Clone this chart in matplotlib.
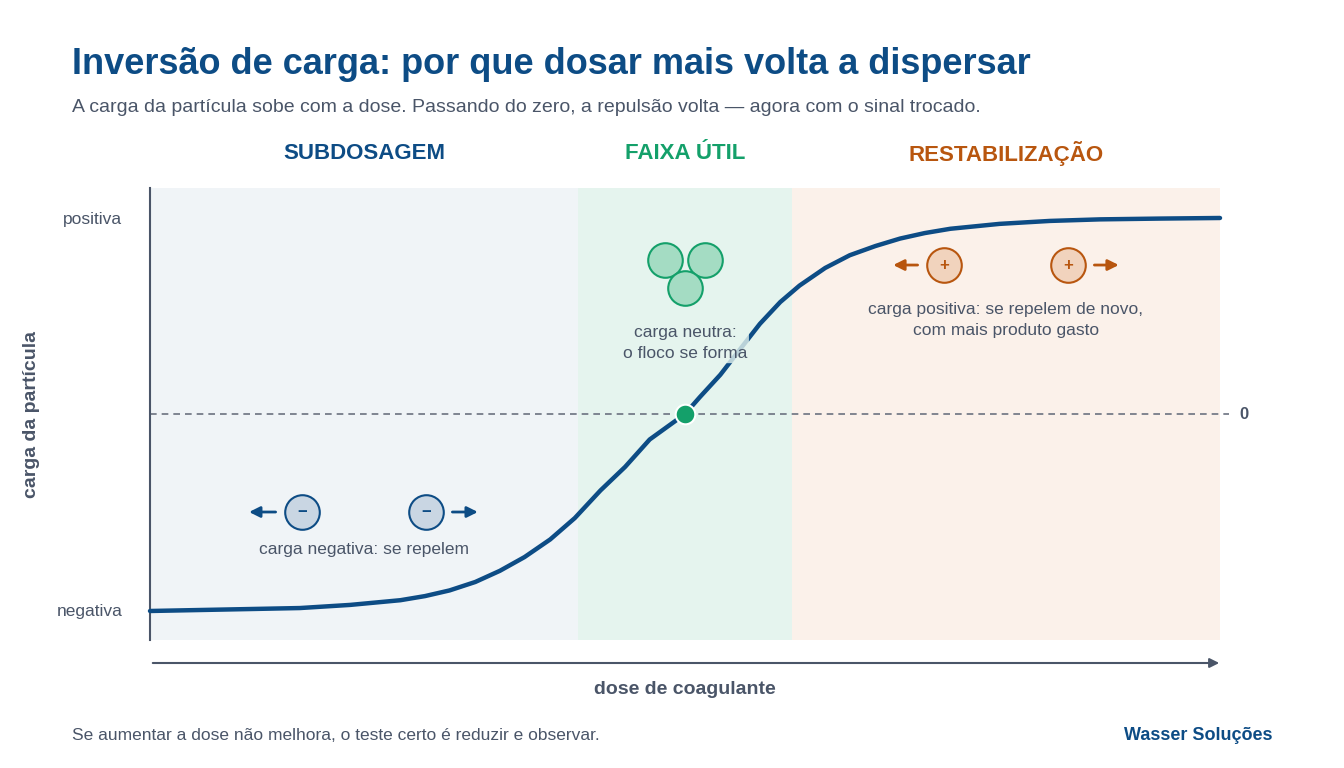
import matplotlib
matplotlib.use("Agg")
import matplotlib.pyplot as plt

# data (dose 0-10, charge -1..1)
dose = [0, 0.467, 0.935, 1.40, 1.87, 2.34, 2.57, 2.80, 3.04, 3.27, 3.50, 3.74, 3.97, 4.21, 4.44,
        4.67, 5.0, 5.14, 5.33, 5.51, 5.70, 5.89, 6.07, 6.31, 6.54, 6.78, 7.01, 7.24, 7.48, 7.94,
        8.41, 8.88, 9.44, 10]
charge = [-1.005, -1.0, -0.995, -0.99, -0.974, -0.95, -0.929, -0.90, -0.857, -0.80, -0.730, -0.64,
          -0.531, -0.39, -0.270, -0.13, 0, 0.087, 0.20, 0.327, 0.46, 0.571, 0.655, 0.745, 0.81,
          0.857, 0.895, 0.923, 0.945, 0.97, 0.985, 0.993, 0.997, 1.0]
zones = ["SUBDOSAGEM", "FAIXA ÚTIL", "RESTABILIZAÇÃO"]
zone_edges = [0, 4, 6, 10]
ytick_pos = [1, -1]
ytick_labels = ["positiva", "negativa"]

BLUE = "#0d4c85"
GREEN = "#14a06a"
ORANGE = "#b8560f"
GRAY = "#4a5568"
zone_colors = [BLUE, GREEN, ORANGE]
zone_fill = ["#f0f4f7", "#e5f4ee", "#fbf1ea"]

plt.rcParams['font.family'] = ['Liberation Sans', 'DejaVu Sans']
fig = plt.figure(figsize=(13.44, 7.68), dpi=100)
ax = fig.add_axes([150/1344, 1-640/768, 1070/1344, 452/768])
ax.set_xlim(0, 10)
ax.set_ylim(-1.153, 1.153)

for i, name in enumerate(zones):
    ax.axvspan(zone_edges[i], zone_edges[i+1], color=zone_fill[i], lw=0, zorder=0)
    xc = (zone_edges[i] + zone_edges[i+1]) / 2
    ax.text(xc, 1.33, name, ha="center", va="center", fontsize=16, fontweight="bold",
            color=zone_colors[i], clip_on=False)

ax.plot([0, 10.08], [0, 0], ls=(0, (4, 3)), color="#6b7280", lw=1.2, clip_on=False, zorder=1)
ax.text(10.22, 0, "0", ha="center", va="center", fontsize=12, fontweight="bold", color=GRAY)

ax.plot(dose, charge, color=BLUE, lw=3.2, solid_capstyle="round", solid_joinstyle="round",
        zorder=3, clip_on=False)
ax.scatter([5.0], [0], s=200, color=GREEN, edgecolor="white", lw=1.5, zorder=4)

# particles
def particle(x, y, sign, col, face):
    ax.scatter([x], [y], s=620, color=face, edgecolor=col, lw=1.5, zorder=4)
    ax.text(x, y, sign, ha="center", va="center", fontsize=12, fontweight="bold", color=col, zorder=5)

def arrow(x0, x1, y, col):
    ax.annotate("", xy=(x1, y), xytext=(x0, y),
                arrowprops=dict(arrowstyle="-|>", color=col, lw=2, mutation_scale=16), zorder=4)

particle(1.42, -0.5, "−", BLUE, "#c9d6e3")
particle(2.58, -0.5, "−", BLUE, "#c9d6e3")
arrow(1.20, 0.90, -0.5, BLUE)
arrow(2.80, 3.09, -0.5, BLUE)
for x, y in [(4.81, 0.786), (5.19, 0.786), (5.0, 0.643)]:
    ax.scatter([x], [y], s=620, color="#a4dcc3", edgecolor=GREEN, lw=1.5, zorder=4)
particle(7.42, 0.76, "+", ORANGE, "#f1d3bd")
particle(8.58, 0.76, "+", ORANGE, "#f1d3bd")
arrow(7.20, 6.92, 0.76, ORANGE)
arrow(8.80, 9.08, 0.76, ORANGE)

ax.text(2.0, -0.69, "carga negativa: se repelem", ha="center", va="center", fontsize=12.5, color=GRAY)
ax.text(5.0, 0.36, "carga neutra:\no floco se forma", ha="center", va="center", fontsize=12.5,
        color=GRAY, linespacing=1.5, zorder=5,
        bbox=dict(boxstyle="round,pad=0.1", fc=zone_fill[1], ec="none", alpha=0.8))
ax.text(8.0, 0.48, "carga positiva: se repelem de novo,\ncom mais produto gasto", ha="center",
        va="center", fontsize=12.5, color=GRAY, linespacing=1.5)

for s in ["top", "right", "bottom"]:
    ax.spines[s].set_visible(False)
ax.spines["left"].set_color(GRAY)
ax.spines["left"].set_linewidth(1.5)
ax.set_xticks([])
ax.set_yticks(ytick_pos)
ax.set_yticklabels(ytick_labels, fontsize=12.5, color=GRAY)
ax.tick_params(axis="y", length=0, pad=20)
ax.set_ylabel("carga da partícula", fontsize=14, fontweight="bold", color=GRAY, labelpad=12)

# x axis arrow
fig.patches.append(matplotlib.patches.FancyArrowPatch(
    (150/1344, 1-663/768), (1222/1344, 1-663/768), transform=fig.transFigure,
    arrowstyle="-|>", mutation_scale=14, color=GRAY, lw=1.5))
fig.text(685/1344, 1-690/768, "dose de coagulante", ha="center", va="center", fontsize=14,
         fontweight="bold", color=GRAY)

fig.text(72/1344, 1-64/768, "Inversão de carga: por que dosar mais volta a dispersar", fontsize=26,
         fontweight="bold", color=BLUE, va="center")
fig.text(72/1344, 1-108/768, "A carga da partícula sobe com a dose. Passando do zero, a repulsão volta — agora com o sinal trocado.",
         fontsize=14, color=GRAY, va="center")
fig.text(72/1344, 1-736/768, "Se aumentar a dose não melhora, o teste certo é reduzir e observar.",
         fontsize=12.5, color=GRAY, va="center")
fig.text(1272/1344, 1-736/768, "Wasser Soluções", fontsize=13, fontweight="bold", color=BLUE,
         va="center", ha="right")

fig.savefig("out.png", dpi=100)
